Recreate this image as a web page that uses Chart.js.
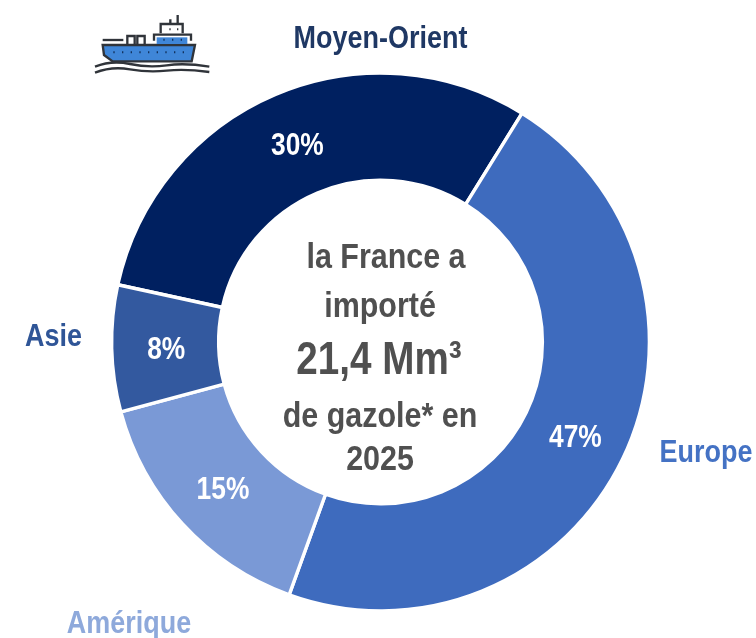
<!DOCTYPE html>
<html lang="fr"><head><meta charset="utf-8">
<style>
html,body{margin:0;padding:0;background:#fff;overflow:hidden}
#wrap{position:relative;width:756px;height:638px}
canvas{position:absolute;left:0;top:0}
#ship{position:absolute;left:80px;top:0}
</style>
<script src="https://cdn.jsdelivr.net/npm/chart.js@4"></script>
</head><body>
<div id="wrap">
<canvas id="c" width="756" height="638"></canvas>
<svg id="ship" width="150" height="90" viewBox="0 0 450 270" fill="none" stroke="#30343a" stroke-width="7">
  <path d="M68 135H345L335 184H98L72 165Z" fill="#3f86d8"/>
  <path d="M230 132V112H322V132" fill="#3f86d8" stroke="none"/>
  <path d="M222 122V104H333V122"/>
  <path d="M242 100V72H308V100M293 72V45M271 72V58"/>
  <path d="M142 133V108H164V133M172 133V108H194V133"/>
  <path d="M68 120H130"/>
  <path d="M45 200Q95 180 150 192T260 196T388 200M45 218Q95 198 150 208T260 212T388 216"/>
  <g stroke="#12325e" stroke-width="6" stroke-dasharray="4 22"><path d="M100 157H325"/><path d="M250 119H315"/></g>
  <g stroke-width="6" stroke-dasharray="4 19"><path d="M268 88H295"/></g>
</svg>
</div>
<script>
const categories = ['Moyen-Orient', 'Europe', 'Amérique', 'Asie'];
const shares = [30.4, 46.7, 15.3, 7.6];
const sliceColors = ['#002060', '#3E6BBE', '#7A99D6', '#33599F'];
const categoryColors = ['#1F3864', '#4472C4', '#8EA9DB', '#2F5597'];
const categoryAnchors = [[380.5, 39], [706, 453], [129, 624], [53.5, 337]];
const centerLines = [
  ['la France a', 35, 386, 258],
  ['importé', 35, 380, 307],
  ['21,4 Mm³', 46, 379, 361],
  ['de gazole* en', 35, 380, 417],
  ['2025', 35, 380, 460]
];
const SANS = '"Liberation Sans"';
function squeezedText(ctx, text, x, y, squeeze) {
  ctx.save();
  ctx.translate(x, y);
  ctx.scale(squeeze, 1);
  ctx.fillText(text, 0, 0);
  ctx.restore();
}
const textPlugin = {
  id: 'texts',
  afterDraw(chart) {
    const ctx = chart.ctx;
    ctx.save();
    ctx.textAlign = 'center';
    ctx.textBaseline = 'middle';
    const arcs = chart.getDatasetMeta(0).data;
    ctx.fillStyle = '#fff';
    ctx.font = 'bold 31px ' + SANS;
    arcs.forEach((a, i) => {
      const p = a.tooltipPosition();
      squeezedText(ctx, Math.round(shares[i]) + '%', p.x + 1, p.y + 3, 0.85);
    });
    ctx.font = 'bold 31px ' + SANS;
    categories.forEach((c, i) => {
      ctx.fillStyle = categoryColors[i];
      squeezedText(ctx, c, categoryAnchors[i][0], categoryAnchors[i][1], 0.87);
    });
    ctx.fillStyle = '#505050';
    centerLines.forEach(([t, s, x, y]) => {
      ctx.font = 'bold ' + s + 'px ' + SANS;
      squeezedText(ctx, t, x, y, s > 40 ? 0.84 : 0.87);
    });
    ctx.restore();
  }
};
new Chart(document.getElementById('c'), {
  type: 'doughnut',
  data: { labels: categories, datasets: [{ data: shares, backgroundColor: sliceColors, borderColor: '#fff', borderWidth: 3.4 }] },
  options: {
    responsive: false, animation: false,
    rotation: -77.7, cutout: '60.2%', radius: 268.9,
    layout: { padding: { left: 5, right: 0, top: 46, bottom: 0 } },
    plugins: { legend: { display: false }, tooltip: { enabled: false } }
  },
  plugins: [textPlugin]
});
</script>
</body></html>
